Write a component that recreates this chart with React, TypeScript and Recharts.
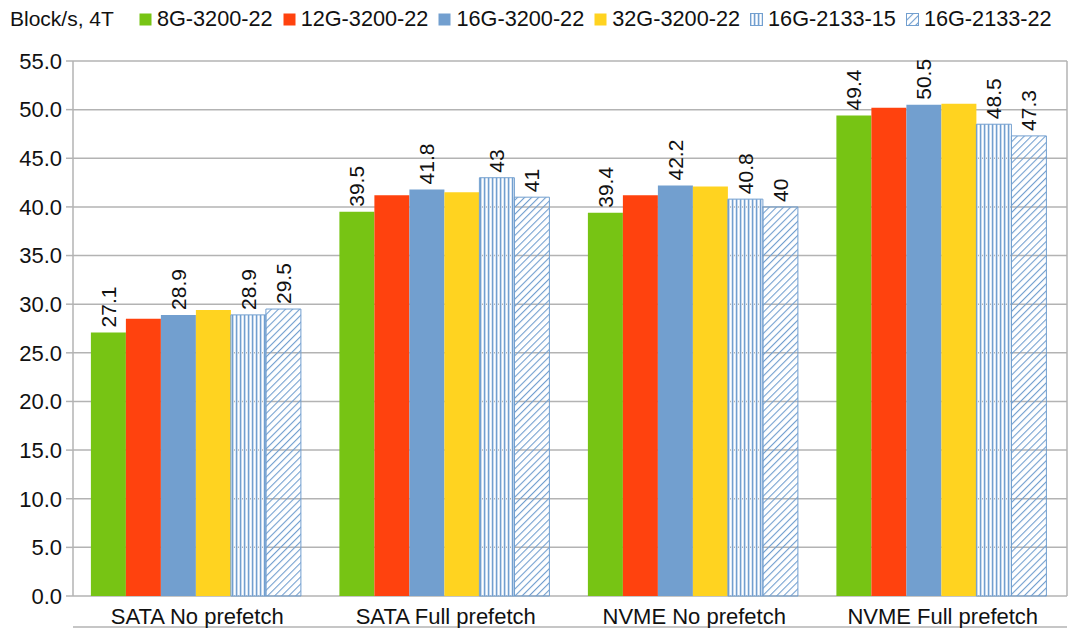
import React from 'react';
import { BarChart, Bar, XAxis, YAxis, CartesianGrid, LabelList } from 'recharts';

const FONT = '"Liberation Sans", Arial, sans-serif';
const GRID = '#b3b3b3';
const BLUE = '#729fcf';

// categories and series values
const categories = ['SATA No prefetch', 'SATA Full prefetch', 'NVME No prefetch', 'NVME Full prefetch'];
const g8_3200 = [27.1, 39.5, 39.4, 49.4];
const g12_3200 = [28.5, 41.2, 41.2, 50.2];
const g16_3200 = [28.9, 41.8, 42.2, 50.5];
const g32_3200 = [29.4, 41.5, 42.1, 50.6];
const g16_2133_15 = [28.9, 43, 40.8, 48.5];
const g16_2133_22 = [29.5, 41, 40, 47.3];
const yTicks = [0, 5, 10, 15, 20, 25, 30, 35, 40, 45, 50, 55];
const edgeTicks = [0, 1, 2, 3, 4];

const series = [
  { key: 'a', name: '8G-3200-22', values: g8_3200, fill: '#77c414', labeled: true },
  { key: 'b', name: '12G-3200-22', values: g12_3200, fill: '#ff420e', labeled: false },
  { key: 'c', name: '16G-3200-22', values: g16_3200, fill: BLUE, labeled: true },
  { key: 'd', name: '32G-3200-22', values: g32_3200, fill: '#ffd320', labeled: false },
  { key: 'e', name: '16G-2133-15', values: g16_2133_15, fill: 'url(#vstripe)', labeled: true, outline: true },
  { key: 'f', name: '16G-2133-22', values: g16_2133_22, fill: 'url(#hatch)', labeled: true, outline: true },
];

const data = categories.map((name, i) => {
  const row: Record<string, string | number> = { name };
  series.forEach((s) => {
    row[s.key] = s.values[i];
  });
  return row;
});

const Patterns = ({ prefix = '' }: { prefix?: string }) => (
  <defs>
    <pattern id={`${prefix}vstripe`} patternUnits="userSpaceOnUse" width={4} height={4}>
      <rect x={0} y={0} width={1} height={4} fill={BLUE} />
      <rect x={1} y={0} width={1} height={4} fill="#c7d9ee" />
      <rect x={3} y={0} width={1} height={4} fill="#dce8f5" />
    </pattern>
    <pattern id={`${prefix}hatch`} patternUnits="userSpaceOnUse" width={5} height={5} patternTransform="rotate(45)">
      <line x1={0} y1={0} x2={0} y2={5} stroke={BLUE} strokeWidth={2.2} />
    </pattern>
  </defs>
);

const VerticalLabel = (props: any) => {
  const { x, y, width, value } = props;
  const cx = x + width / 2;
  const ty = y - 5;
  return (
    <text
      x={cx}
      y={ty}
      transform={`rotate(-90 ${cx} ${ty})`}
      textAnchor="start"
      dominantBaseline="central"
      fontSize={21}
      fontFamily={FONT}
      fill="#111"
    >
      {value}
    </text>
  );
};

const LegendRow = () => (
  <div
    style={{
      position: 'absolute',
      top: 6,
      left: 10,
      display: 'flex',
      alignItems: 'center',
      fontFamily: FONT,
      color: '#111',
      whiteSpace: 'nowrap',
    }}
  >
    <span style={{ fontSize: 21, marginRight: 25 }}>Block/s, 4T</span>
    {series.map((s) => (
      <span key={s.key} style={{ display: 'flex', alignItems: 'center', marginRight: 10 }}>
        <svg width={13} height={13} style={{ marginRight: 5 }}>
          <Patterns prefix="lg-" />
          <rect
            x={0.5}
            y={0.5}
            width={12}
            height={12}
            fill={s.outline ? s.fill.replace('#', '#lg-') : s.fill}
            stroke={s.outline ? BLUE : 'none'}
          />
        </svg>
        <span style={{ fontSize: 21.7 }}>{s.name}</span>
      </span>
    ))}
  </div>
);

export default function App() {
  return (
    <div style={{ position: 'absolute', left: 0, top: 0, width: 1069, height: 628, background: '#fff' }}>
      <BarChart
        width={1069}
        height={628}
        data={data}
        margin={{ top: 61, right: 0, bottom: 0, left: 0 }}
        barCategoryGap="7.2%"
        barGap={0}
        style={{ fontFamily: FONT }}
      >
        <Patterns />
        <CartesianGrid vertical={false} stroke={GRID} strokeWidth={1.5} />
        <XAxis
          xAxisId="edge"
          type="number"
          domain={[0, 4]}
          ticks={edgeTicks}
          tick={false}
          tickSize={6}
          height={1}
          axisLine={{ stroke: GRID, strokeWidth: 1.5 }}
          tickLine={{ stroke: GRID, strokeWidth: 1.5 }}
          allowDataOverflow
        />
        <XAxis
          dataKey="name"
          height={31}
          axisLine={false}
          tickLine={false}
          tickSize={0}
          tickMargin={12}
          tick={{ fontSize: 22, fill: '#111', fontFamily: FONT }}
        />
        <YAxis
          width={73}
          domain={[0, 55]}
          ticks={yTicks}
          interval={0}
          tickFormatter={(v: number) => v.toFixed(1)}
          tickSize={7}
          tickMargin={4}
          axisLine={{ stroke: GRID, strokeWidth: 1.5 }}
          tickLine={{ stroke: GRID, strokeWidth: 1.5 }}
          tick={{ fontSize: 22, fill: '#111', fontFamily: FONT }}
        />
        <YAxis
          yAxisId="right"
          orientation="right"
          width={2}
          domain={[0, 55]}
          tick={false}
          tickLine={false}
          axisLine={{ stroke: GRID, strokeWidth: 1.5 }}
        />
        {series.map((s) => (
          <Bar
            key={s.key}
            dataKey={s.key}
            name={s.name}
            fill={s.fill}
            stroke={s.outline ? BLUE : 'none'}
            strokeWidth={1}
            isAnimationActive={false}
          >
            {s.labeled && <LabelList dataKey={s.key} content={VerticalLabel} />}
          </Bar>
        ))}
      </BarChart>
      <LegendRow />
    </div>
  );
}
